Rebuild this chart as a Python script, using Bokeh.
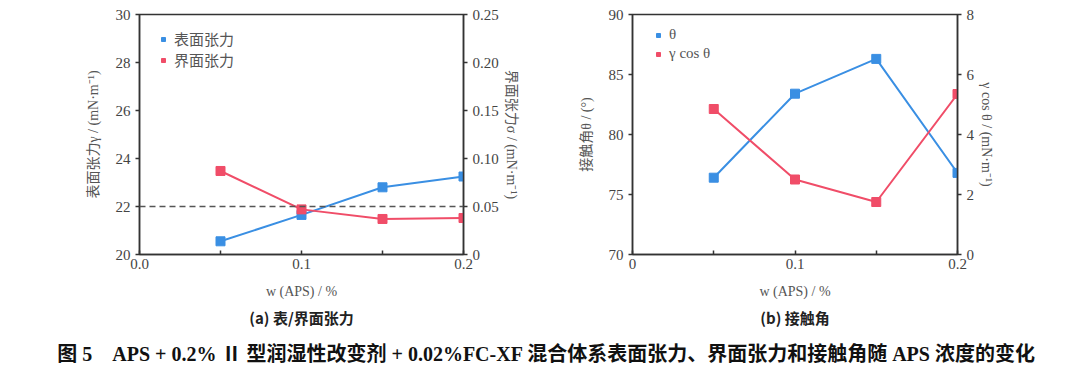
from bokeh.plotting import figure
from bokeh.models import (Range1d, LinearAxis, FixedTicker, Span, Legend, LegendItem,
                          Title, ColumnDataSource)
from bokeh.layouts import column, row
from bokeh.embed import file_html
from bokeh.resources import INLINE
from bokeh.core.properties import value

# ---------------- data ----------------
x_aps = [0.05, 0.10, 0.15, 0.20]
surface_tension = [20.55, 21.65, 22.8, 23.25]      # mN/m, left axis (a)
interfacial_tension = [0.087, 0.047, 0.037, 0.038]  # mN/m, right axis (a)
contact_angle = [76.4, 83.4, 86.3, 76.8]            # deg, left axis (b)
gamma_cos_theta = [4.85, 2.5, 1.75, 5.35]           # mN/m, right axis (b)
reference_line = 22.0

series_a_names = ["表面张力", "界面张力"]
series_b_names = ["θ", "γ cos θ"]
xticks_a = {0: "0.0", 0.1: "0.1", 0.2: "0.2"}
xticks_b = {0: "0", 0.1: "0.1", 0.2: "0.2"}
yticks_a_left = [20, 22, 24, 26, 28, 30]
yticks_a_right = [0, 0.05, 0.10, 0.15, 0.20, 0.25]
yticks_a_right_labels = ["0", "0.05", "0.10", "0.15", "0.20", "0.25"]
yticks_b_left = [70, 75, 80, 85, 90]
yticks_b_right = [0, 2, 4, 6, 8]

BLUE = "#3a8fe3"
RED = "#f04d68"
AXIS = "#333333"
TXT = "#555555"
SERIF = "'Liberation Serif', 'Noto Sans CJK SC'"
CJK = "'Noto Sans CJK SC', 'Liberation Serif'"


def style_axis(ax):
    ax.axis_line_color = AXIS
    ax.axis_line_width = 1.5
    ax.major_tick_line_color = AXIS
    ax.major_tick_line_width = 1.5
    ax.minor_tick_line_color = AXIS
    ax.minor_tick_line_width = 1.5
    ax.major_label_text_font = SERIF
    ax.major_label_text_font_size = "15px"
    ax.major_label_text_color = "#444444"
    ax.axis_label_text_font = SERIF
    ax.axis_label_text_font_size = "14px"
    ax.axis_label_text_font_style = "normal"
    ax.axis_label_text_color = TXT


def make_panel(border_left, frame_w, border_right, x_labels, yl_range, yl_ticks, yl_label,
               yr_range, yr_ticks, yr_labels, yr_label, y1, y2, names,
               legend_loc, caption, hline=None):
    p = figure(frame_width=frame_w, frame_height=240,
               x_range=Range1d(0, 0.2), y_range=Range1d(*yl_range),
               output_backend="svg", toolbar_location=None,
               min_border_left=border_left, min_border_right=border_right,
               min_border_top=14, min_border_bottom=78)
    p.grid.visible = False
    p.outline_line_color = AXIS
    p.outline_line_width = 1.5
    p.background_fill_color = None
    p.border_fill_color = None
    p.extra_y_ranges = {"r": Range1d(*yr_range)}

    xa = p.xaxis[0]
    xa.ticker = FixedTicker(ticks=list(x_labels.keys()), minor_ticks=[0.05, 0.15])
    xa.major_label_overrides = {k: v for k, v in x_labels.items()}
    xa.major_tick_in = 4
    xa.major_tick_out = 0
    xa.minor_tick_in = 4
    xa.minor_tick_out = 0
    xa.major_label_standoff = 4
    xa.axis_label = "w (APS) / %"
    style_axis(xa)
    xa.axis_label_standoff = 12

    ya = p.yaxis[0]
    ya.ticker = FixedTicker(ticks=yl_ticks, minor_ticks=[])
    ya.major_tick_in = 0
    ya.major_tick_out = 4
    ya.minor_tick_in = 0
    ya.minor_tick_out = 0
    ya.axis_label = yl_label
    style_axis(ya)
    ya.axis_label_standoff = 12

    ra = LinearAxis(y_range_name="r", axis_label=yr_label)
    ra.ticker = FixedTicker(ticks=yr_ticks, minor_ticks=[])
    ra.major_label_overrides = {k: v for k, v in zip(yr_ticks, yr_labels)}
    ra.major_tick_in = 0
    ra.major_tick_out = 4
    ra.minor_tick_in = 0
    ra.minor_tick_out = 0
    style_axis(ra)
    ra.axis_label_standoff = 2
    p.add_layout(ra, "right")

    if hline is not None:
        p.add_layout(Span(location=hline, dimension="width", line_color="#555555",
                          line_width=1.5, line_dash="6 4"))

    s1 = ColumnDataSource(dict(x=x_aps, y=y1))
    s2 = ColumnDataSource(dict(x=x_aps, y=y2))
    p.line("x", "y", source=s1, line_color=BLUE, line_width=2)
    p.line("x", "y", source=s2, line_color=RED, line_width=2, y_range_name="r")
    r1 = p.scatter("x", "y", source=s1, marker="square", size=9, fill_color=BLUE,
                   line_color=BLUE)
    r2 = p.scatter("x", "y", source=s2, marker="square", size=9, fill_color=RED,
                   line_color=RED, y_range_name="r")

    leg = Legend(items=[LegendItem(label=names[0], renderers=[r1]),
                        LegendItem(label=names[1], renderers=[r2])],
                 location=legend_loc)
    leg.border_line_color = None
    leg.background_fill_alpha = 0
    leg.label_text_font = SERIF
    leg.label_text_font_size = "15px"
    leg.label_text_color = TXT
    leg.glyph_width = 10
    leg.glyph_height = 10
    leg.label_standoff = 6
    leg.spacing = 0
    leg.label_height = 19
    leg.margin = 0
    leg.padding = 6
    p.add_layout(leg)

    t = Title(text=caption, align="center", text_font=CJK, text_font_size="15px",
              text_font_style="bold", text_color="#222222", standoff=7)
    p.add_layout(t, "below")
    return p


pa = make_panel(139, 324, 77, xticks_a, (20, 30), yticks_a_left, "表面张力γ / (mN·m⁻¹)",
                (0, 0.25), yticks_a_right, yticks_a_right_labels, "界面张力σ / (mN·m⁻¹)",
                surface_tension, interfacial_tension, series_a_names, (19, 184),
                "(a) 表/界面张力", hline=reference_line)
pb = make_panel(92, 325, 118, xticks_b, (70, 90), yticks_b_left, "接触角θ / (°)",
                (0, 8), yticks_b_right, [str(v) for v in yticks_b_right],
                "γ cos θ / (mN·m⁻¹)",
                contact_angle, gamma_cos_theta, series_b_names, (21, 191),
                "(b) 接触角")

NB = "\u00a0"
caption_text = ("图 5" + NB * 4 + "APS + 0.2% Ⅱ 型润湿性改变剂 + 0.02%FC-XF 混合体系"
                "表面张力、界面张力和接触角随 APS 浓度的变化")
cap = figure(width=1075, height=35, x_range=Range1d(0, 1075), y_range=Range1d(0, 35),
             output_backend="svg", toolbar_location=None, min_border=0)
cap.axis.visible = False
cap.grid.visible = False
cap.outline_line_color = None
cap.text(x=[546], y=[14], text=[caption_text],
         text_font=value(SERIF), text_font_size="20px", text_font_style="bold",
         text_color="#111111", text_align="center", text_baseline="middle")

layout = column(row(pa, pb, spacing=0), cap, spacing=0)
open("out.html", "w").write(file_html(layout, INLINE))
